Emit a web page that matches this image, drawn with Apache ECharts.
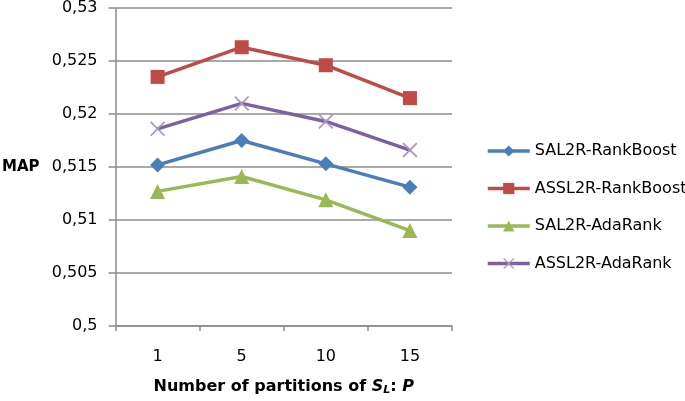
<!DOCTYPE html>
<html>
<head>
<meta charset="utf-8">
<script src="https://cdn.jsdelivr.net/npm/echarts@6/dist/echarts.min.js"></script>
<style>
html,body{margin:0;padding:0;background:#fff;}
#c{width:685px;height:401px;}
</style>
</head>
<body>
<div id="c"></div>
<script>
const categories = ['1', '5', '10', '15'];
const sal2rRankBoost = [0.5152, 0.5175, 0.5153, 0.5131];
const assl2rRankBoost = [0.5235, 0.5263, 0.5246, 0.5215];
const sal2rAdaRank = [0.5127, 0.5141, 0.5119, 0.5090];
const assl2rAdaRank = [0.5186, 0.5210, 0.5193, 0.5166];
const seriesNames = ['SAL2R-RankBoost', 'ASSL2R-RankBoost', 'SAL2R-AdaRank', 'ASSL2R-AdaRank'];
const yMin = 0.5, yMax = 0.53, yStep = 0.005;

const FONT = 'DejaVu Sans';
const xSymbol = 'path://M0,0.8 L0.8,0 L5,4.2 L9.2,0 L10,0.8 L5.8,5 L10,9.2 L9.2,10 L5,5.8 L0.8,10 L0,9.2 L4.2,5 Z';

const chart = echarts.init(document.getElementById('c'), null, {renderer: 'canvas'});
chart.setOption({
  animation: false,
  backgroundColor: '#ffffff',
  grid: {left: 113, right: 233, top: 7, bottom: 73, containLabel: false},
  legend: {
    orient: 'vertical',
    left: 481,
    top: 138,
    itemWidth: 42,
    itemHeight: 14,
    itemGap: 21.5,
    lineStyle: {width: 3.5},
    textStyle: {fontFamily: FONT, fontSize: 16, color: '#000'},
    data: seriesNames
  },
  xAxis: {
    type: 'category',
    data: categories,
    boundaryGap: true,
    axisLine: {lineStyle: {color: '#8c8c8c', width: 1.5}},
    axisTick: {show: true, length: 5, lineStyle: {color: '#8c8c8c', width: 1.5}},
    axisLabel: {fontFamily: FONT, fontSize: 16, color: '#000', margin: 23},
    name: '{b|Number of partitions of }{bi|S}{sub|L}{b|: }{bi|P}',
    nameLocation: 'middle',
    nameGap: 52,
    nameTextStyle: {
      rich: {
        b: {fontFamily: FONT, fontSize: 16, fontWeight: 'bold', color: '#000'},
        bi: {fontFamily: FONT, fontSize: 16, fontWeight: 'bold', fontStyle: 'italic', color: '#000'},
        sub: {fontFamily: FONT, fontSize: 11, fontWeight: 'bold', fontStyle: 'italic', color: '#000', verticalAlign: 'bottom', padding: [7, 0, 0, 0]}
      }
    }
  },
  yAxis: {
    type: 'value',
    min: yMin,
    max: yMax,
    interval: yStep,
    name: 'MAP',
    nameLocation: 'middle',
    nameRotate: 0,
    nameGap: 76,
    nameTextStyle: {fontFamily: FONT, fontSize: 15, fontWeight: 'bold', color: '#000'},
    axisLine: {show: true, lineStyle: {color: '#8c8c8c', width: 1.5}},
    axisTick: {show: true, length: 7, lineStyle: {color: '#8c8c8c', width: 1.5}},
    splitLine: {show: true, lineStyle: {color: '#8c8c8c', width: 1.5}},
    axisLabel: {
      fontFamily: FONT, fontSize: 16, color: '#000', margin: 18,
      formatter: v => String(parseFloat(v.toFixed(4))).replace('.', ',')
    }
  },
  series: [
    {name: seriesNames[0], type: 'line', data: sal2rRankBoost, symbol: 'diamond', symbolSize: 15,
     lineStyle: {width: 3.5, color: '#4a7ebb'}, itemStyle: {color: '#4a7ebb'}},
    {name: seriesNames[1], type: 'line', data: assl2rRankBoost, symbol: 'rect', symbolSize: 14,
     lineStyle: {width: 3.5, color: '#be4b48'}, itemStyle: {color: '#be4b48'}},
    {name: seriesNames[2], type: 'line', data: sal2rAdaRank, symbol: 'triangle', symbolSize: 15,
     lineStyle: {width: 3.5, color: '#98b954'}, itemStyle: {color: '#98b954'}},
    {name: seriesNames[3], type: 'line', data: assl2rAdaRank, symbol: xSymbol, symbolSize: 15,
     lineStyle: {width: 3.5, color: '#7d60a0'}, itemStyle: {color: '#a894c4'}}
  ]
});
</script>
</body>
</html>
